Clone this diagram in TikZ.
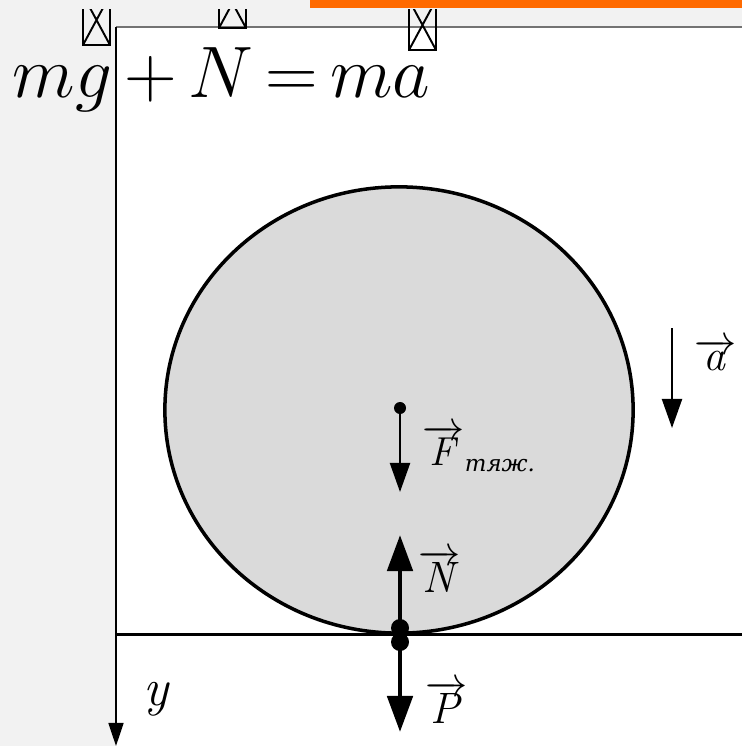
\documentclass[tikz,border=0pt]{standalone}
\usepackage{fontspec}
\newfontfamily\cyrfont{DejaVu Serif}
\usetikzlibrary{arrows.meta}

\definecolor{pagegray}{HTML}{F2F2F2}
\definecolor{bargold}{HTML}{FF6A00}
\definecolor{ballgray}{HTML}{DADADA}
\newcommand{\fvec}[1]{$\overrightarrow{\hbox{\itshape #1\kern1pt}}$}

\begin{document}
\begin{tikzpicture}[
    x=0.01cm, y=-0.01cm,
    thinforce/.style={-{Triangle[length=2.9mm, width=2mm]}, line width=0.6pt},
    force/.style={-{Triangle[length=3.6mm, width=2.5mm]}, line width=1.4pt},
    axis/.style={-{Triangle[length=2.3mm, width=1.5mm]}, line width=0.45pt},
    dot/.style={circle, fill=black, inner sep=0pt, minimum size=1.8mm},
    cdot/.style={circle, fill=black, inner sep=0pt, minimum size=1.2mm},
    lbl/.style={anchor=base west, inner sep=0pt, font=\fontsize{12.5}{14}\selectfont},
    tofu/.style={line width=0.55pt},
]
\useasboundingbox (0,0) rectangle (742,746);
\fill[pagegray] (0,0) rectangle (742,746);
\fill[bargold] (310,0) rectangle (742,8);

% white sheet
\fill[white] (116,27) rectangle (742,746);
\draw[black!55, line width=0.55pt] (116,27) -- (742,27);

% missing glyph boxes above the formula
\begin{scope}
  \clip (0,10) rectangle (742,746);
  \foreach \xa/\ya in {83/-5, 219/-22, 409/0} {
    \draw[tofu] (\xa,\ya) rectangle ++(27,50);
    \draw[tofu] (\xa,\ya) -- ++(27,50) (\xa+27,\ya) -- ++(-27,50);
  }
\end{scope}

\node[anchor=base west, inner sep=0pt, font=\fontsize{21.5}{26}\selectfont]
    (eq) at (12,98) {$mg\mskip3mu{+}\mskip3mu N\mskip3mu{=}\mskip3mu ma$};

% ball
\draw[fill=ballgray, line width=1pt] (399,410) ellipse [x radius=2.34cm, y radius=2.23cm];

% floor and axis
\coordinate (O) at (116,27);
\coordinate (ytip) at (116,746);
\coordinate (floorR) at (742,634);
\coordinate (floorL) at (116,634);
\draw[line width=0.85pt] (floorL) -- (floorR);
\draw[axis] (O) -- (ytip);
\node[lbl, font=\fontsize{15}{17}\selectfont] (ylbl) at (143,705) {\itshape y};

% forces
\node[cdot] (C) at (400,408) {};
\node[dot] (T) at (400,628) {};
\node[dot] (B) at (400,642) {};
\coordinate (Ftip) at (400,492);
\coordinate (Ntip) at (400,535);
\coordinate (Ptip) at (400,732);
\coordinate (atail) at (672,328);
\coordinate (atip) at (672,428);

\draw[thinforce] (C.center) -- (Ftip);
\draw[force] (T.center) -- (Ntip);
\draw[force] (B.center) -- (Ptip);
\draw[thinforce] (atail) -- (atip);

\node[lbl, font=\fontsize{11.5}{13}\selectfont] (Flbl) at (422,465)
    {\fvec{F}$_{\hbox{\fontsize{6.5}{7}\selectfont\cyrfont\itshape тяж.}}$};
\node[lbl] (Nlbl) at (418,592) {\fvec{N}};
\node[lbl] (Plbl) at (425,723) {\fvec{P}};
\node[lbl] (albl) at (694,370) {\fvec{a}};
\end{tikzpicture}
\end{document}
